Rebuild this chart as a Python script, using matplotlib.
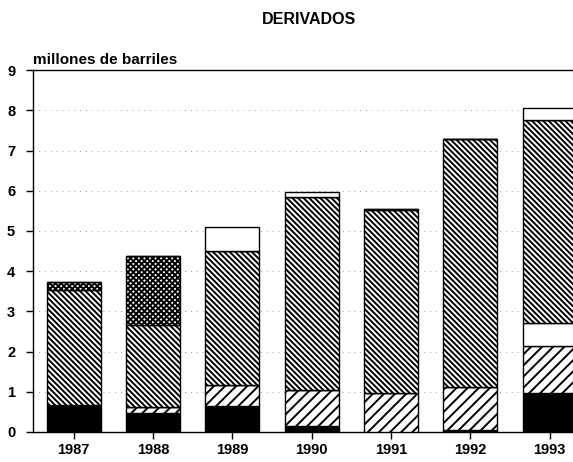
import matplotlib
matplotlib.use("Agg")
import matplotlib.pyplot as plt
import numpy as np

plt.rcParams["font.family"] = ["Liberation Sans", "DejaVu Sans"]
plt.rcParams["font.weight"] = "bold"
plt.rcParams["hatch.linewidth"] = 1.4

years = ["1987", "1988", "1989", "1990", "1991", "1992", "1993"]

# segmentos de abajo hacia arriba (millones de barriles)
negro = [0.68, 0.47, 0.65, 0.15, 0.0, 0.05, 0.97]
rayado_der = [0.0, 0.15, 0.52, 0.90, 0.97, 1.07, 1.17]
punteado_claro = [0.0, 0.0, 0.0, 0.0, 0.0, 0.0, 0.57]
rayado_izq = [2.85, 2.04, 3.33, 4.80, 4.55, 6.17, 5.05]
cuadriculado = [0.20, 1.72, 0.0, 0.0, 0.03, 0.0, 0.0]
blanco = [0.0, 0.0, 0.60, 0.12, 0.0, 0.0, 0.30]

series = [
    (negro, "black", None),
    (rayado_der, "white", "///"),
    (punteado_claro, "white", None),
    (rayado_izq, "white", "\\" * 6),
    (cuadriculado, "white", "xxxxxx"),
    (blanco, "white", None),
]

fig = plt.figure(figsize=(5.73, 4.62), dpi=100)
ax = fig.add_axes([0.058, 0.065, 0.95, 0.783])

x = np.arange(len(years))
bottom = np.zeros(len(years))
for vals, fc, hatch in series:
    vals = np.array(vals)
    ax.bar(x, vals, bottom=bottom, width=0.68, color=fc, edgecolor="black",
           linewidth=1.0, hatch=hatch, zorder=3)
    bottom += vals

ax.set_ylim(0, 9)
ax.set_xlim(-0.51, 6.35)
ax.set_yticks(range(0, 10))
ax.set_xticks(x)
ax.set_xticklabels(years)
ax.tick_params(axis="both", labelsize=10.5, length=5, width=1, direction="out")
ax.tick_params(axis="x", pad=3)
ax.tick_params(axis="y", pad=8)
for lbl in ax.get_xticklabels() + ax.get_yticklabels():
    lbl.set_fontweight("bold")

ax.yaxis.grid(True, linestyle=(0, (1, 6)), color="gray", linewidth=0.6, zorder=0)
ax.spines["right"].set_visible(False)
for s in ["left", "top", "bottom"]:
    ax.spines[s].set_linewidth(1.0)

fig.text(0.54, 0.958, "DERIVADOS", ha="center", va="center", fontsize=11.5, fontweight="bold")
fig.text(0.058, 0.87, "millones de barriles", ha="left", va="center", fontsize=11,
         fontweight="bold")

fig.savefig("out.png", dpi=100)
